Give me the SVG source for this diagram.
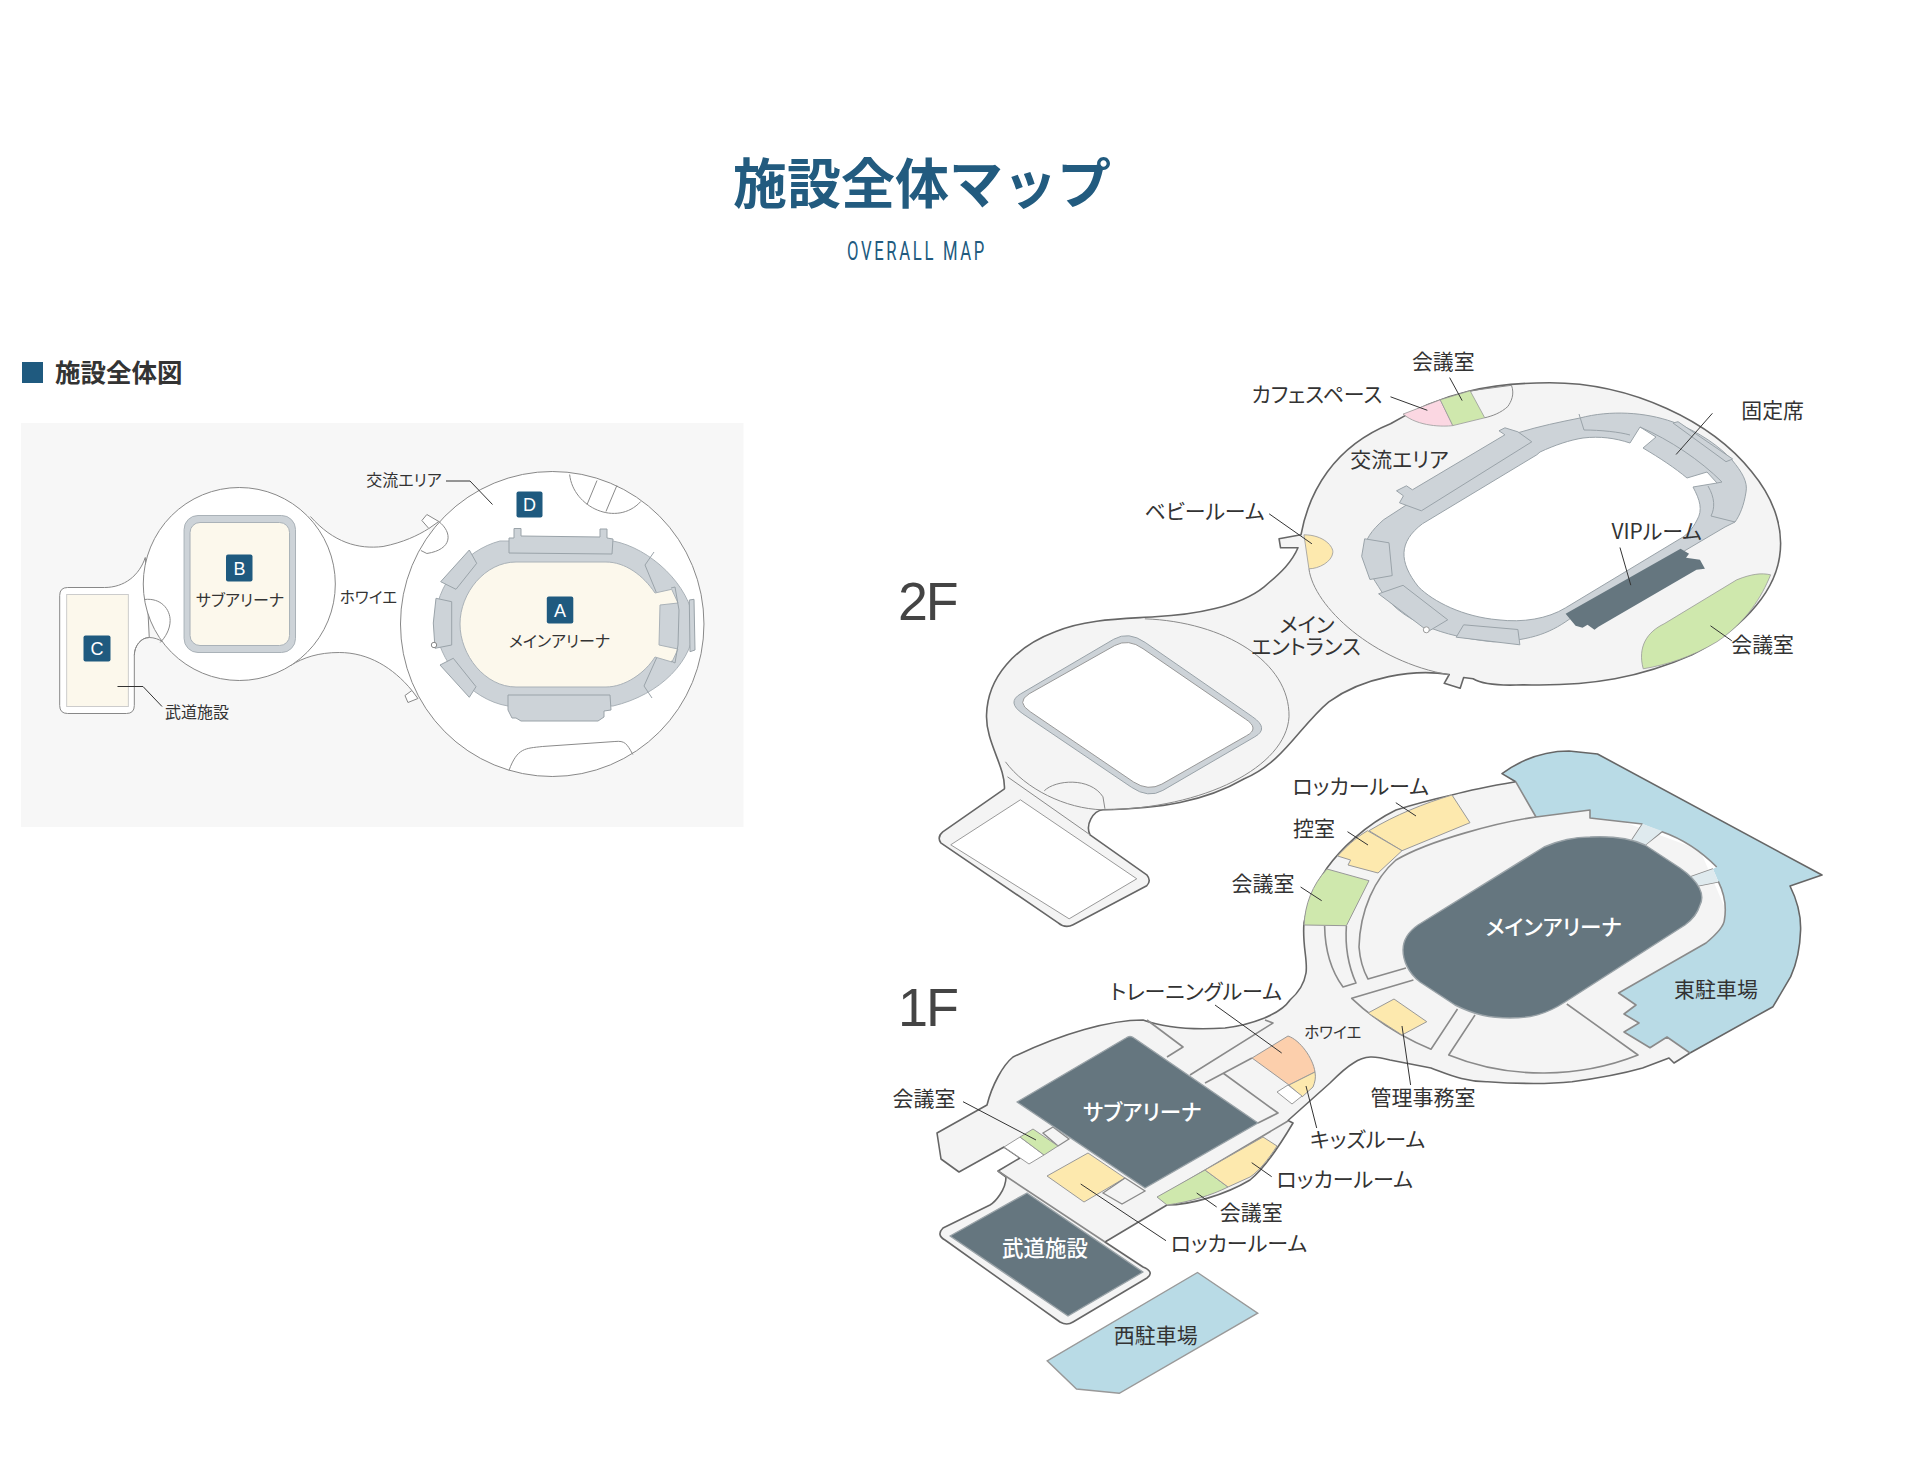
<svg xmlns="http://www.w3.org/2000/svg" width="1922" height="1480" viewBox="0 0 1922 1480">
<style>
text{font-family:"Noto Sans CJK JP","Noto Sans",sans-serif;fill:#333;font-feature-settings:"palt";text-anchor:middle}
.fl{fill:#f4f4f4;stroke:#666;stroke-width:1.6;stroke-linejoin:round}
.th{fill:none;stroke:#8a8a8a;stroke-width:1}
.seat{fill:#cdd3d8;stroke:#9aa3a9;stroke-width:1}
.sl{fill:none;stroke:#9aa3a9;stroke-width:1}
.w{fill:#fff;stroke:#999;stroke-width:1}
.wl{fill:#f4f4f4;stroke:#8a8a8a;stroke-width:1.6}
.ln{fill:none;stroke:#8a8a8a;stroke-width:1.6;stroke-linejoin:round}
.dk{fill:#65767f;stroke:#9aa3a8;stroke-width:1.4;stroke-linejoin:round}
.y{fill:#fde9ae;stroke:#999}.g{fill:#cfe8ad;stroke:#999}.b{fill:#b9dbe6}
.ld{fill:none;stroke:#333;stroke-width:1}
.l{font-size:21px}
.ls{font-size:16px}
.wt{font-size:21.5px;fill:#fff;font-weight:500}
.flr{font-family:"Liberation Sans",sans-serif;font-size:54px;fill:#444;text-anchor:start;letter-spacing:-2px}
.bd{fill:#1f5a7f}
.bt{font-family:"Liberation Sans",sans-serif;font-size:18px;fill:#fff}
.lp{fill:#fff;stroke:#888;stroke-width:1}
.cr{fill:#fcf8ec}
</style>
<g id="header">
<text x="922" y="204" style="font-size:54px;font-weight:700;fill:#225b7f;font-feature-settings:normal">施設全体マップ</text>
<text x="847" y="260" textLength="140" lengthAdjust="spacingAndGlyphs" style="font-family:'Roboto',sans-serif;font-size:25px;fill:#225b7f;text-anchor:start;letter-spacing:4px">OVERALL MAP</text>
<rect x="22" y="362" width="21" height="21" class="bd"/>
<text x="55" y="382" style="font-size:25.500px;font-weight:700;text-anchor:start">施設全体図</text>
</g>
<rect id="panel" x="21" y="423" width="722.500" height="404" fill="#f7f7f7"/>
<g id="overview-plan" transform="translate(0,-2.500) scale(.995,1)">
<path d="M312,519 C335,545 360,552 385,549 C405,545 420,538 431,531 L425,700 L414,693 C395,670 370,655 341,655 C320,655 305,660 292,668Z" fill="#fff"/>
<path class="th" d="M312,519 C335,545 360,552 385,549 C405,545 420,538 431,531"/>
<path class="th" d="M292,668 C305,660 320,655 341,655 C370,655 395,670 414,693"/>
<path class="lp" d="M424,523 L429,517 L441,524 L431,531Z"/>
<path class="lp" d="M407,698 L414,693 L420,701 L410,705Z"/>
<path class="lp" d="M105,590 C125,590 140,578 146,560 L150,640 C142,640 135,648 135,658 L135,708 Q135,716 127,716 L68,716 Q60,716 60,708 L60,598 Q60,590 68,590Z"/>
<rect x="67" y="597" width="62" height="112" class="cr" stroke="#ccc" stroke-width="1"/>
<circle class="lp" cx="240.500" cy="586.500" r="96.500"/>
<path class="th" d="M145,602 C162,600 171,612 171,623 C171,632 166,640 161,645"/>
<path class="th" d="M135,658 C135,648 142,640 150,640 C155,640 160,642 163,644"/>
<rect x="185" y="518" width="112" height="137" rx="14" fill="#cdd3d8" stroke="#aab2b8"/>
<rect x="191" y="525" width="100" height="123" rx="10" class="cr" stroke="#aab2b8"/>
<circle class="lp" cx="555" cy="626.500" r="152.500"/>
<path class="th" d="M441,524 C455,535 455,552 429,556 L423,553"/>
<path class="th" d="M572.500,477 C576,510 620,530 644,504 M600,483 L590,507 M620,488 L609,514"/>
<path class="th" d="M511.500,773 C520,750 528,751 545,749 L618,744 C628,743 630,746 636,757"/>
</g>
<g id="overview-arena">
<path fill="#cdd3d8" stroke="#aab2b8" d="M500,541 L613,541 C650,548 690,585 694,623 C695,660 660,695 613,706 L508,706 C470,700 437,660 435,623 C435,585 465,550 500,541Z"/>
<path class="seat" d="M509,538 L514,538 L514,528.500 L521,528.500 L521,536 L600,537 L600,529 L607,529 L607,538 L613,539 L612,554 L509,553Z"/>
<path class="seat" d="M508,695 L610,695 L611,710 L604,711 L604,717 L598,721 L521,721 L516,718 L512,718 L508,710Z"/>
<path class="seat" d="M469.300,550 L476.700,563.300 L456,589.300 L440.700,581.700Z"/>
<path class="seat" d="M436,598.300 L451.700,601.700 L451.700,645 L435,648.300 L433.300,623Z"/>
<path class="seat" d="M453.300,658.300 L476,686.700 L469.300,697.300 L440,665Z"/>
<circle cx="434" cy="645" r="2.700" class="lp"/>
<path class="sl" d="M654,552 L645,565 L657,594 M657,657 L644,686 L652,698"/>
<path class="seat" d="M689.300,600 L694,599.300 L695,650 L690,651.700Z"/>
<path class="cr" stroke="#aab2b8" d="M516,562 L606,562 C625,562 643,575 655,593 L671.700,589.300 L678,603 L660,605 L659,645 L678,649 L672,662 L655,657 C645,673 625,687 606,687 L516,687 C485,687 460,655 460,624 C460,593 485,562 516,562Z"/>
<path class="sl" d="M671,588 L675,587 L679,610 L678,645 L675,663 L671,661"/>
<rect x="226" y="554.500" width="26.500" height="27" rx="2" class="bd"/><text x="239.500" y="574.500" class="bt">B</text>
<rect x="546.800" y="596.500" width="26.500" height="27" rx="2" class="bd"/><text x="560" y="616.500" class="bt">A</text>
<rect x="516.500" y="491.500" width="26" height="26" rx="2" class="bd"/><text x="529.500" y="511" class="bt">D</text>
<rect x="83.500" y="635.500" width="27" height="26" rx="2" class="bd"/><text x="97" y="655" class="bt">C</text>
<text x="240" y="606" class="ls">サブアリーナ</text>
<text x="368.500" y="603" style="font-size:15.500px">ホワイエ</text>
<text x="404" y="486" class="ls">交流エリア</text>
<text x="559.500" y="647" class="ls">メインアリーナ</text>
<text x="197" y="718" class="ls">武道施設</text>
<path class="ld" stroke-width=".8" d="M446,481 H470 L492.500,504.500 M117.500,686.500 H143 L162,706.500"/>
</g>
<g id="floor-2f-base" transform="translate(.5,-3.200) scale(.995,1)">
<text x="902" y="623" class="flr">2F</text>
<path class="fl" d="M1557,386 C1640,386 1720,425 1760,475 C1785,505 1792,535 1788,560 C1782,600 1745,635 1700,658 C1650,680 1600,690 1530,688 C1510,689 1490,688 1480,682 L1470.500,680.700 L1467,691.500 L1451,686.500 L1456,677.700 C1420,672 1370,680 1335,705 C1305,730 1290,765 1250,782 C1210,805 1165,812 1108,813 C1098,814 1090,828 1095,838 L1152,878 Q1157,884 1152,889 L1078,928 Q1070,932 1063,926 L945,846 Q941,840 947,835 L1009,792 C1010,770 990,745 991,718 C992,680 1020,650 1060,635 C1090,622 1130,622 1160,620 C1200,618 1245,610 1270,590 C1288,575 1298,565 1304,551 L1286.500,551 L1285,542 L1307,538 C1315,495 1340,450 1397,427 C1450,395 1500,386 1557,386Z"/>
<path class="th" d="M1150,622 C1230,625 1296,665 1295,720 C1292,770 1210,812 1108,813 C1070,812 1030,792 1010,765"/>
<path class="th" d="M1049,794 C1060,783 1095,780 1108,800 L1110,812"/>
<path class="th" d="M1012,780 L1095,838"/>
<path class="w" d="M1025,803 L1142,882 L1074,922 L955,848Z"/>
<path class="seat" d="M1150.400,645.600 L1258.500,720.100 Q1275.300,731.700 1260.600,740 L1168.200,793.600 Q1153.500,802 1136.700,790.500 L1027.500,717 Q1010.700,705.400 1025.400,697 L1118.900,642.400 Q1133.600,634 1150.400,645.600Z"/>
<path class="w" d="M1148.300,651.900 L1251.200,722.200 Q1265.900,731.700 1252.200,739 L1167.200,787.300 Q1153.500,794.700 1138.800,785.200 L1034.900,714.900 Q1020.200,705.400 1033.800,697 L1119.900,648.700 Q1133.600,641.400 1148.300,651.900Z"/>
<path class="th" d="M1315,572 C1320,610 1380,665 1456,678"/>
</g>
<g id="floor-2f-ring">
<path class="seat" d="M1580,418 C1610,410 1645,412 1673,422 C1700,432 1720,447 1732,460 C1742,472 1748,482 1746,492 C1744,505 1740,515 1735,522 L1725,527 L1572.600,616.800 C1552.700,631.800 1532.800,640.800 1493,641.800 C1443.300,636.800 1398.500,621.800 1378.600,586.800 C1358.700,556.800 1358.700,541.800 1383.500,519.800 L1517.900,432.800 C1540,426 1560,422 1580,418Z"/>
<path fill="#fff" stroke="#9aa3a9" d="M1540,452 C1555,445 1570,440 1583,438 C1600,436 1615,438 1630,443 L1640,427 L1656,437 L1643,448 C1660,458 1675,468 1687,478 L1707,472 L1717,483 L1693,487 C1700,500 1703,510 1697,520 C1692,530 1687,534 1683,537 L1565.600,607.800 C1547.700,618.800 1522.800,622.800 1498,619.800 C1463.200,616.800 1433.300,601.800 1418.400,586.800 C1398.500,561.800 1398.500,541.800 1422.400,523.800 L1536.800,454.800Z"/>
<path class="sl" d="M1579,414 L1584,430 C1600,430 1620,432 1630,435 M1640,427 C1670,440 1700,460 1722,482 L1717,483 M1708,486 C1715,498 1715,508 1711,516 L1735,522"/>
<path class="seat" d="M1673,423 L1678,421.700 L1732.700,459 L1726,461.700Z"/>
</g>
<g id="floor-2f-rooms" transform="translate(.5,-3.200) scale(.995,1)">
<path class="seat" d="M1403,494 L1413,489 L1419,493 L1512,438 L1506,434 L1512,431 L1525,435 L1539,445 L1428,514 L1406,506 L1410,499Z"/>
<path class="seat" d="M1371,542 L1395.500,546 L1398.700,578.800 L1376.300,582.700 L1368,559.600Z"/>
<path class="seat" d="M1409.600,588.500 L1454.500,623 L1435,634.600 L1385,597Z"/>
<circle cx="1433" cy="633" r="3" class="w"/>
<path class="seat" d="M1470.500,628 L1525,632.700 L1527,648 L1463,640.400Z"/>
<path fill="#65767f" d="M1573,617 L1688.500,552 L1697,557 L1694,561 L1708,563 L1713,572 L1704.500,573 L1606,630 L1602,633 L1595,628 L1590,631 L1583,629Z"/>
<path class="g" stroke-width=".8" d="M1651,672 C1645,650 1655,635 1672,627 L1745,583 C1760,577 1770,576 1779,578 C1770,600 1755,625 1725,645 C1700,660 1675,668 1651,672Z"/>
<path fill="#fbd7e2" stroke="#999" stroke-width=".8" d="M1409.600,417.300 L1447,403 L1459.600,428.800 C1450,430 1425,430 1409.600,417.300Z"/>
<path class="g" stroke-width=".8" d="M1447,403 L1477,394 L1491.700,421 L1459.600,428.800Z"/>
<path class="th" d="M1477,394 L1518.600,388.500 C1522,398 1518,405 1515,409.600 C1508,416 1500,419 1491.700,421"/>
<path class="y" stroke-width=".8" d="M1310,538 C1330,538 1340,550 1339,556 C1338,565 1325,572 1315,572Z"/>
<text x="1450" y="372" class="l">会議室</text>
<text x="1323" y="405" class="l">カフェスペース</text>
<text x="1781" y="421" class="l">固定席</text>
<text x="1406" y="470.500" class="l">交流エリア</text>
<text x="1210" y="522.500" class="l">ベビールーム</text>
<text x="1664.500" y="542" class="l">VIPルーム</text>
<text x="1771" y="655.500" class="l">会議室</text>
<text x="1313" y="635.500" class="l">メイン</text>
<text x="1312" y="657.500" class="l">エントランス</text>
</g>
<g id="floor-1f">
<text x="898" y="1026" class="flr">1F</text>
<polygon points="1515,782 1700,850 1730,920 1690,1053 1400,1060 1300,1000" fill="#f4f4f4"/>
<path class="fl" d="M1515.700,781.700 C1490,786 1470,790 1452,795 C1430,800 1415,804 1396,810 C1365,825 1340,850 1327,868 C1315,885 1307,905 1304,923 C1302,945 1308,960 1306,973 C1304,985 1298,993 1290,1000 C1280,1015 1250,1025 1225,1028 C1195,1030 1165,1028 1143,1020 C1110,1020 1063,1033 1013,1057 C1003,1065 992,1085 987,1105 L937,1133 L941,1159 L959,1172 L1004,1147 L1020,1158 L998,1171 L1006,1177 C1006,1190 995,1202 990,1205 L943,1228 Q936,1235 945,1240 L1060,1322 Q1067,1326 1073,1322 L1147,1278 Q1155,1272 1143,1267 L1105,1242 L1167,1205 C1190,1205 1225,1195 1250,1180 C1265,1168 1280,1145 1293,1123 L1288,1120.500 L1330,1083 C1340,1073 1345,1068 1353.500,1063 C1365,1055 1375,1056 1390,1060 L1431,1068 C1450,1075 1465,1082 1487.500,1081.700 C1520,1084 1550,1084 1572,1081.700 C1600,1078 1625,1073 1642.600,1068 L1669,1058 L1674,1063 L1690,1053"/>
<path class="b" d="M1536,817 L1515.700,781.700 L1502,773.600 C1518,762 1540,751 1569,751 L1597.500,754 L1822,875 L1790,886 C1797,900 1801,915 1800.600,930 C1800,950 1796,965 1790.700,976.700 L1773,1006.700 L1690,1053 L1667,1037 L1650,1047.700 L1624,1032 L1639,1023 L1624,1014 L1636,1005 L1618.600,993 L1706,943 C1718,933 1724,925 1724.400,920 C1727,905 1724,893 1718.400,881.700 L1713,869 L1716.700,867 C1700,850 1680,838 1662,831.700 L1642.600,824 L1590,818 L1590,810Z"/>
<path fill="none" stroke="#666" stroke-width="1.600" stroke-linejoin="round" d="M1515.700,781.700 L1502,773.600 C1518,762 1540,751 1569,751 L1597.500,754 L1822,875 L1790,886 C1797,900 1801,915 1800.600,930 C1800,950 1796,965 1790.700,976.700 L1773,1006.700 L1690,1053"/>
<path class="ln" d="M1536,817 L1515.700,781.700 M1690,1053 L1667,1037 L1650,1047.700 L1624,1032 L1639,1023 L1624,1014 L1636,1005 L1618.600,993 L1706,943 C1718,933 1724,925 1724.400,920 C1727,905 1724,893 1718.400,881.700 L1697,886 M1713,869 L1691,876.700 M1716.700,867 C1700,850 1680,838 1662,831.700 L1644,845.700 M1642.600,824 L1632,840 M1642.600,824 L1590,818 L1590,810 L1536,817 C1500,822 1430,840 1396,860 C1375,878 1360,910 1359,947 C1360,960 1363,970 1368,979 L1406,968"/>
<path d="M1642.600,824 L1662,831 L1644.400,845.700 L1632,840Z M1713,869 L1718.400,881.700 L1697,886 L1691,876.700Z" fill="#dfeaee"/>
<path class="ln" d="M1324.600,925.700 C1325,950 1332,972 1343,987 L1356,983 C1348,965 1345,945 1346.400,925.700"/>
<path class="ln" d="M1413.400,980 L1351.700,998.300 Q1385,1030 1431,1049.300 L1457.500,1009 M1475,1015 L1448.700,1055 C1510,1080 1580,1078 1638,1055 L1566.800,1004"/>
<path class="ln" d="M1147,1020 L1183,1047 L1167,1057 M1190,1075 L1273,1023 L1265,1020 M1205,1083 L1252,1058 M1223,1073 L1278,1113 L1258,1123 M1160,1197 L1288,1121 M998,1171 L1105,1242"/>
<path class="y" d="M1394,999 L1426.800,1021.700 L1402,1035 L1368,1013Z"/>
<path class="y" d="M1452,795 L1470,822.700 L1402,850.700 L1369,830.700 C1395,815 1425,803 1452,795Z"/>
<path class="y" d="M1367.600,830.700 L1402,850.700 L1378,873 L1348,865 L1350.600,860 L1337.600,856 C1345,848 1355,838 1367.600,830.700Z"/>
<path class="g" d="M1327,869 L1369,880.700 L1346.400,925.700 L1304,925 C1305,905 1312,885 1327,869Z"/>
<path fill="#fccfac" stroke="#999" d="M1252,1058 L1288,1036 C1300,1040 1313,1058 1315,1072 L1289,1085Z"/>
<path class="y" d="M1315,1072 C1316,1078 1315,1082 1313,1087 L1302,1097 L1289,1085Z"/>
<path class="w" d="M1277,1092 L1288,1085 L1302,1096 L1292,1104Z"/>
<path class="y" d="M1088,1153 L1125,1178 L1084,1202 L1047,1176Z"/>
<path class="wl" style="stroke-width:1.300" d="M1103,1193 L1125,1178 L1145,1191 L1122,1204Z"/>
<path class="w" d="M1004,1147 L1020,1137 L1044,1155 L1029,1164Z"/>
<path class="wl" style="stroke-width:1.300" d="M1043,1133 L1053,1127 L1069,1139 L1058,1146Z"/>
<path class="g" d="M1033,1129 L1058,1146 L1044,1155 L1020,1137Z"/>
<path class="g" d="M1157,1197 L1205,1170 L1228,1187 C1212,1195 1190,1202 1167,1205Z"/>
<path class="y" d="M1205,1170 L1263,1137 L1277,1146 C1268,1160 1258,1172 1250,1177 L1228,1187Z"/>
<path class="dk" d="M1590,837 C1610,836 1630,838 1645,845 L1680,868 C1700,882 1705,895 1700,905 C1697,915 1692,920 1685,925 L1565,1002 C1545,1015 1530,1018 1510,1018 C1490,1018 1475,1015 1455,1005 L1420,982 C1408,973 1403,960 1403,950 C1403,940 1408,932 1418,925 L1544,847 C1560,840 1575,837 1590,837Z"/>
<path class="dk" d="M1126,1038 Q1130,1035 1134,1038 L1258,1123 L1145,1188 L1017,1102Z"/>
<path class="dk" d="M1027,1193 L1143,1272 L1068,1316 L950,1236Z"/>
<path class="b" stroke="#999" stroke-width="1.400" d="M1197.500,1272.500 L1257.700,1313.100 L1119.300,1393.300 L1076.500,1389 L1047.200,1360.800Z"/>
<text x="1553.700" y="934.500" class="wt">メインアリーナ</text>
<text x="1142.300" y="1119.500" class="wt">サブアリーナ</text>
<text x="1045" y="1256" class="wt">武道施設</text>
<text x="1716" y="997" class="l">東駐車場</text>
<text x="1360.700" y="794" class="l">ロッカールーム</text>
<text x="1313.900" y="835.500" class="l">控室</text>
<text x="1263.100" y="890.500" class="l">会議室</text>
<text x="1196" y="998.500" class="l">トレーニングルーム</text>
<text x="1332.800" y="1037.500" style="font-size:15.500px">ホワイエ</text>
<text x="1423" y="1105" class="l">管理事務室</text>
<text x="1367.600" y="1146.600" class="l">キッズルーム</text>
<text x="1344.700" y="1186.600" class="l">ロッカールーム</text>
<text x="1251.200" y="1220.300" class="l">会議室</text>
<text x="1238.800" y="1251" class="l">ロッカールーム</text>
<text x="923.900" y="1106" class="l">会議室</text>
<text x="1155.700" y="1343" class="l">西駐車場</text>
</g>
<g id="connectors">
<path class="ld" transform="translate(.5,-3.200) scale(.995,1)" d="M1456.400,380.800 L1469,403.800 M1397,400 L1434,413.500 M1720.500,416.500 L1684,457.700 M1275,517 L1318,547 M1627.600,550.700 L1638.500,588.400 M1718.600,629 L1740,644"/>
<path class="ld" d="M1395.800,802.700 L1416,816 M1347.500,831.700 L1368,845 M1300.600,887 L1321.700,900.700 M1215,1005 L1281.700,1053 M1402,1026 L1410.600,1085 M1306,1086 L1316.700,1128 M1251.700,1162.700 L1271.700,1176.700 M1196.700,1193 L1216.700,1207 M1080.700,1184 L1166,1240.700 M963,1101.700 L1036,1140"/>
</g>
</svg>
